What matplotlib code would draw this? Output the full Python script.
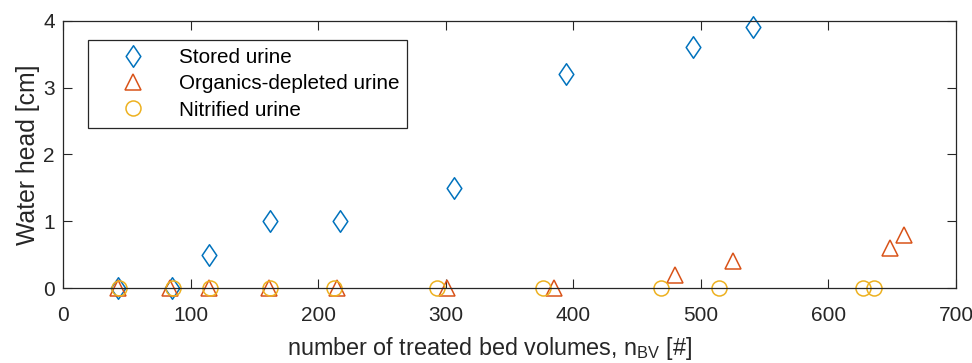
import matplotlib
matplotlib.use("Agg")
import matplotlib.pyplot as plt
from matplotlib.path import Path

# Water head vs. treated bed volumes for three urine types
stored_x = [43, 85, 114, 162, 217, 306, 394, 494, 541]
stored_y = [0, 0, 0.5, 1.0, 1.0, 1.5, 3.2, 3.6, 3.9]

organics_x = [43, 84, 114, 161, 215, 301, 385, 480, 525, 648, 659]
organics_y = [0, 0, 0, 0, 0, 0, 0, 0.2, 0.4, 0.6, 0.8]

nitrified_x = [44, 86, 115, 162, 212, 293, 376, 469, 514, 627, 636]
nitrified_y = [0, 0, 0, 0, 0, 0, 0, 0, 0, 0, 0]

x_ticks = [0, 100, 200, 300, 400, 500, 600, 700]
y_ticks = [0, 1, 2, 3, 4]

blue = "#0072BD"
orange = "#D95319"
yellow = "#EDB120"
axis_col = "#262626"

plt.rcParams["font.family"] = ["Liberation Sans", "DejaVu Sans"]
plt.rcParams["mathtext.fontset"] = "custom"
plt.rcParams["mathtext.rm"] = "Liberation Sans"
plt.rcParams["mathtext.it"] = "Liberation Sans"

# MATLAB-style diamond (a bit wider than matplotlib's thin diamond)
diamond = Path([(0, 1), (0.68, 0), (0, -1), (-0.68, 0), (0, 1)],
               [Path.MOVETO, Path.LINETO, Path.LINETO, Path.LINETO, Path.CLOSEPOLY])

fig = plt.figure(figsize=(9.72, 3.63), dpi=100)
ax = fig.add_axes([0.0651, 0.2066, 0.9184, 0.7364])

common = dict(linestyle="none", markerfacecolor="none", markeredgewidth=1.1, clip_on=False)
ax.plot(stored_x, stored_y, marker=diamond, markersize=15.5, markeredgecolor=blue,
        label="Stored urine", **common)
ax.plot(organics_x, organics_y, marker="^", markersize=11.5, markeredgecolor=orange,
        label="Organics-depleted urine", **common)
ax.plot(nitrified_x, nitrified_y, marker="o", markersize=10.8, markeredgecolor=yellow,
        label="Nitrified urine", **common)

ax.set_xlim(0, 700)
ax.set_ylim(0, 4)
ax.set_xticks(x_ticks)
ax.set_yticks(y_ticks)
ax.tick_params(direction="in", length=6.5, width=0.8, colors=axis_col,
               labelsize=15, top=True, right=True, pad=6)
ax.tick_params(axis="x", pad=13)
for s in ax.spines.values():
    s.set_color(axis_col)
    s.set_linewidth(0.9)

ax.set_xlabel(r"number of treated bed volumes, n$_{\mathrm{BV}}$ [#]", fontsize=16.8,
              color=axis_col)
ax.xaxis.set_label_coords(0.477, -0.2507, transform=ax.transAxes)
ax.xaxis.label.set_va("baseline")
ax.set_ylabel("Water head [cm]", fontsize=17.8, color=axis_col)
ax.yaxis.label.set_va("center")
ax.yaxis.set_label_coords(-0.040, 0.5, transform=ax.transAxes)

leg = ax.legend(loc="upper left", bbox_to_anchor=(0.0277, 0.928), borderaxespad=0,
                fontsize=14.9, frameon=True, fancybox=False, framealpha=1,
                edgecolor=axis_col, handlelength=3.55, handletextpad=0.43,
                borderpad=0.4, labelspacing=0.35)
leg.get_frame().set_linewidth(0.9)
for t in leg.get_texts():
    t.set_color("black")

fig.savefig("out.png", dpi=100)
